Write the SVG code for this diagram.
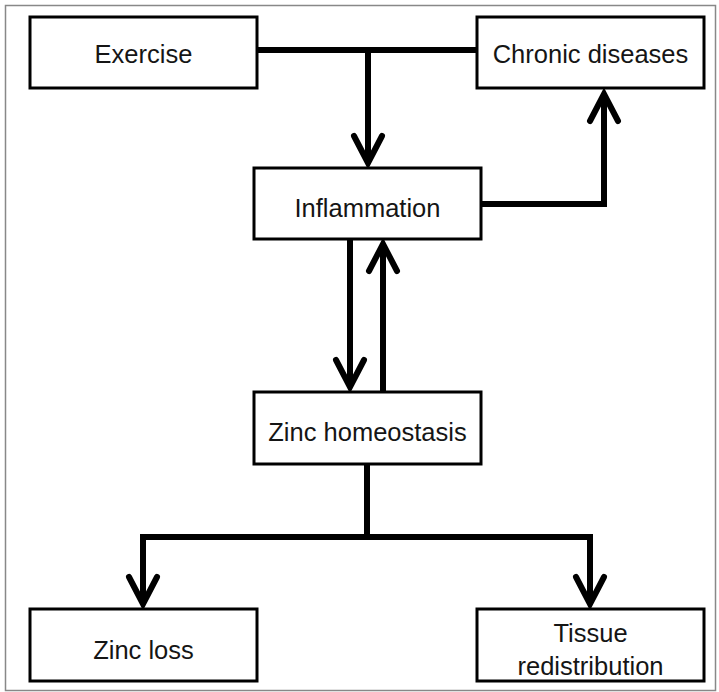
<svg xmlns="http://www.w3.org/2000/svg" width="719" height="692" viewBox="0 0 719 692">
<style>
.box{fill:#fff;stroke:#000;stroke-width:3}
.lbl{font-family:"Liberation Sans",Arial,sans-serif;font-size:25.5px;fill:#151515;text-anchor:middle}
.con{fill:none;stroke:#000;stroke-width:6;stroke-linejoin:miter}
</style>
<defs>
<marker id="arr" markerUnits="userSpaceOnUse" viewBox="-34 -20 40 40" refX="0" refY="0" markerWidth="40" markerHeight="40" orient="auto" overflow="visible">
<path d="M-27,-14 L0,0 L-27,14" fill="none" stroke="#000" stroke-width="6" stroke-linecap="round" stroke-linejoin="miter"/>
</marker>
</defs>
<rect x="0" y="0" width="719" height="692" fill="#fff"/>
<rect x="5.5" y="5.5" width="710" height="685" fill="none" stroke="#888" stroke-width="1.5"/>
<g id="connectors">
<path class="con" d="M257,50 H477"/>
<path class="con" d="M368,50 V163" marker-end="url(#arr)"/>
<path class="con" d="M481,204 H604 V94" marker-end="url(#arr)"/>
<path class="con" d="M350,239 V387" marker-end="url(#arr)"/>
<path class="con" d="M383,392 V244" marker-end="url(#arr)"/>
<path class="con" d="M367,464 V537"/>
<path class="con" d="M143,604 V537 H590 V604" />
<path class="con" d="M143,590 V604" marker-end="url(#arr)"/>
<path class="con" d="M590,590 V604" marker-end="url(#arr)"/>
</g>
<g id="exercise"><rect class="box" x="30" y="17" width="227" height="71"/><text class="lbl" x="143.5" y="63">Exercise</text></g>
<g id="chronic"><rect class="box" x="477" y="17" width="227" height="71"/><text class="lbl" x="590.5" y="63">Chronic diseases</text></g>
<g id="inflammation"><rect class="box" x="254" y="168" width="227" height="71"/><text class="lbl" x="367.5" y="217">Inflammation</text></g>
<g id="zinc-homeostasis"><rect class="box" x="254" y="392" width="227" height="72"/><text class="lbl" x="367.5" y="441">Zinc homeostasis</text></g>
<g id="zinc-loss"><rect class="box" x="30" y="609" width="227" height="72"/><text class="lbl" x="143.5" y="659">Zinc loss</text></g>
<g id="tissue"><rect class="box" x="477" y="609" width="227" height="72"/><text class="lbl" x="590.5" y="642">Tissue</text><text class="lbl" x="590.5" y="675">redistribution</text></g>
</svg>
